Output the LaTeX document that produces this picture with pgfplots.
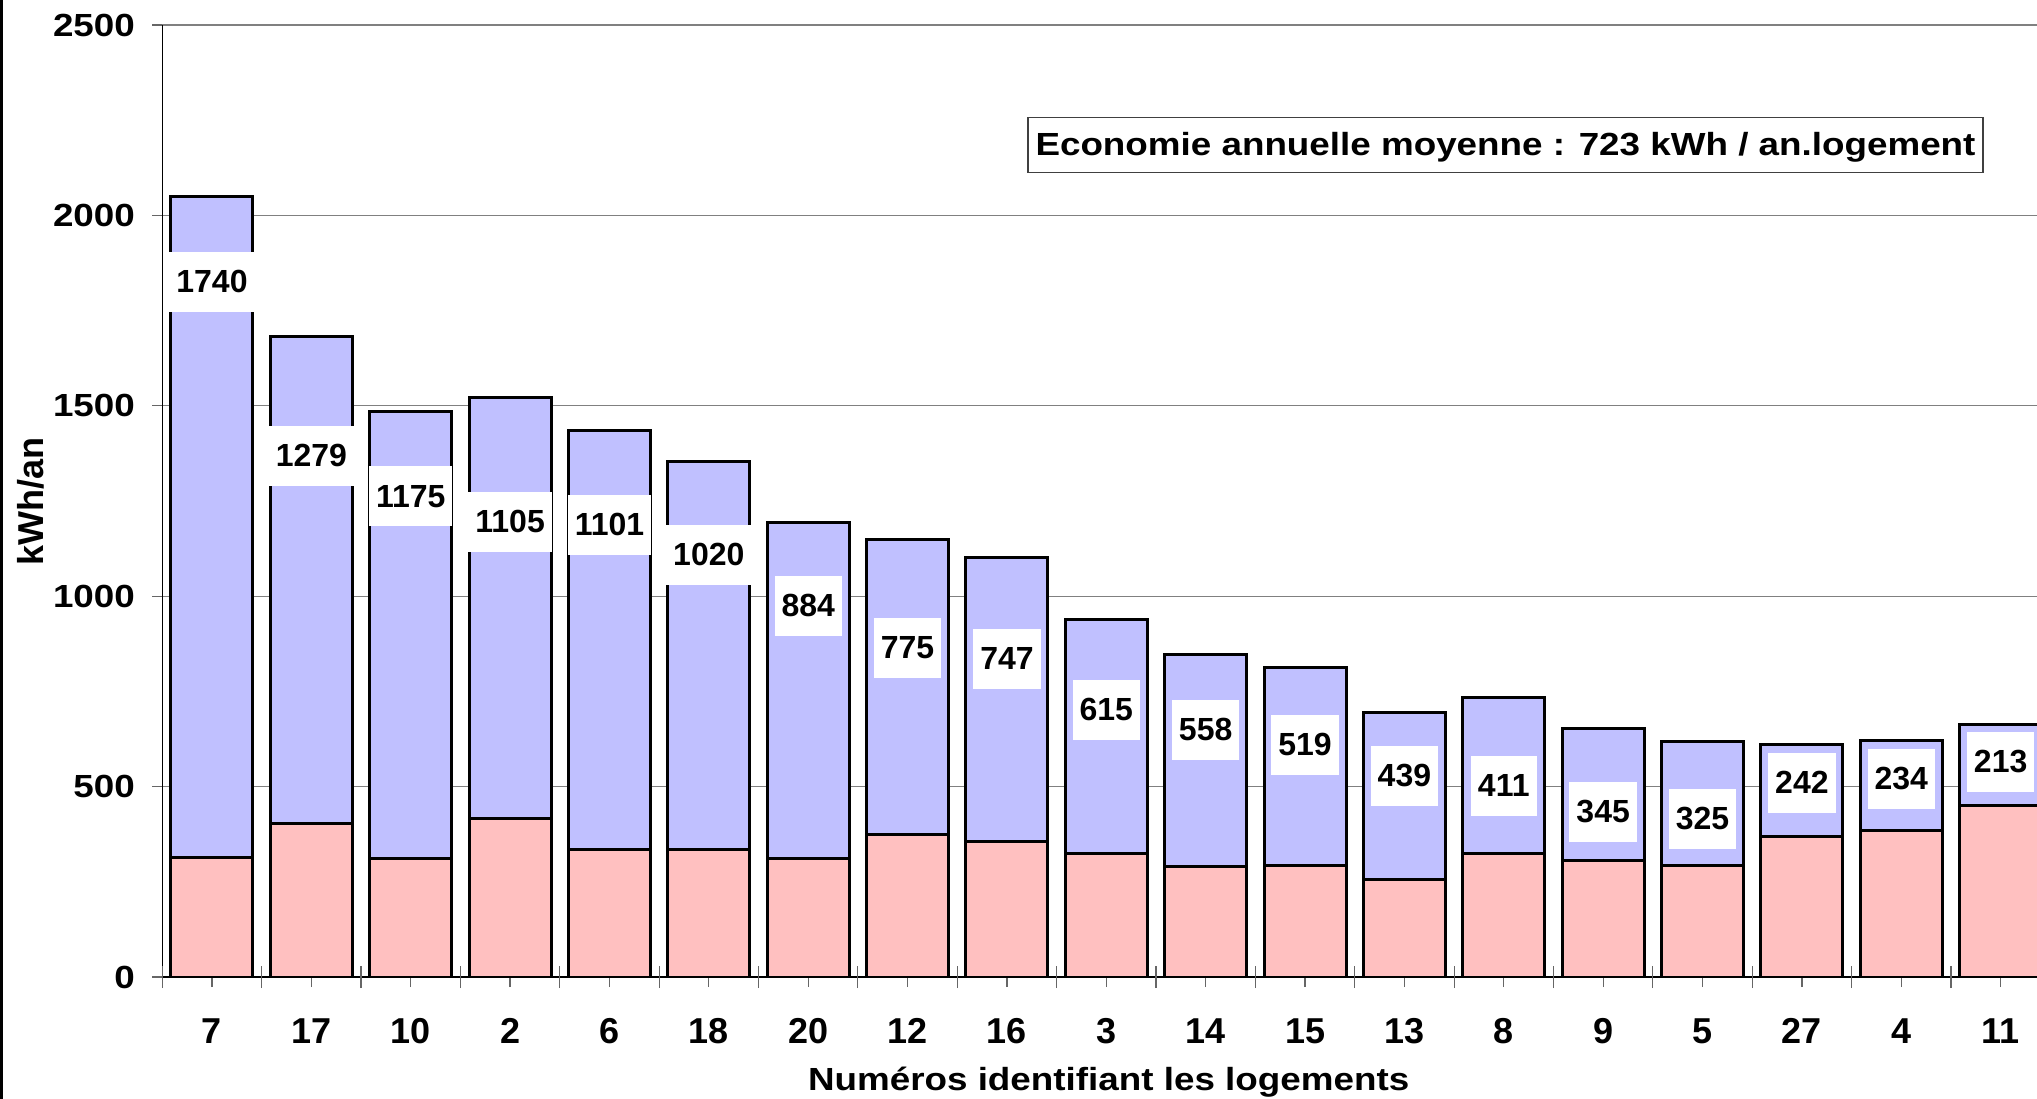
\documentclass[border=0pt]{standalone}
\usepackage{fontspec}
\setmainfont{Liberation Sans}
\newfontfamily\widefont[FakeStretch=1.15]{Liberation Sans}
\usepackage{pgfplots}
\pgfplotsset{compat=1.18}
\usepackage{pgfplotstable}
\definecolor{lav}{RGB}{192,192,255}
\definecolor{pnk}{RGB}{255,192,192}
\pgfplotstableread{
x pink total ly lab
0 314 2050 1826 1740
1 402 1681 1368 1279
2 310 1485 1262 1175
3 416 1521 1194 1105
4 334 1435 1187 1101
5 334 1354 1108 1020
6 310 1194 975 884
7 375 1150 863 775
8 355 1102 835 747
9 324 939 702 615
10 290 848 648 558
11 293 812 610 519
12 256 695 529 439
13 324 735 501 411
14 307 652 433 345
15 293 618 416 325
16 368 610 510 242
17 386 620 520 234
18 450 663 565 213
}\datatable
\begin{document}
\begin{tikzpicture}
\begin{axis}[
  scale only axis, width=937.35bp, height=476bp,
  xmin=-0.5, xmax=18.366, ymin=0, ymax=2500,
  axis lines=left, axis line style={-, black, line width=0.6bp},
  ytick={0,500,1000,1500,2000,2500},
  yticklabels={0,500,1000,1500,2000,2500},
  ymajorgrids, grid style={gray, line width=0.6bp},
  tick align=outside, major tick length=5bp,
  tick style={black!60, line width=0.6bp},
  xtick={0,...,18},
  xticklabels={7,17,10,2,6,18,20,12,16,3,14,15,13,8,9,5,27,4,11},
  extra x ticks={-0.5,0.5,1.5,2.5,3.5,4.5,5.5,6.5,7.5,8.5,9.5,10.5,11.5,12.5,13.5,14.5,15.5,16.5,17.5},
  extra x tick labels={},
  extra x tick style={tick align=center, major tick length=11bp},
  yticklabel style={anchor=east, inner sep=0pt, xshift=-8.5bp, font=\widefont\fontsize{16bp}{18bp}\selectfont\bfseries},
  xticklabel style={anchor=base, inner sep=0pt, yshift=-28bp, font=\fontsize{18bp}{20bp}\selectfont\bfseries},
  xlabel={Numéros identifiant les logements},
  xlabel style={at={(axis description cs:0.5048,-0.1197)}, anchor=base, inner sep=0pt, font=\widefont\fontsize{16bp}{19bp}\selectfont\bfseries},
  ylabel={kWh/an},
  ylabel style={at={(axis description cs:-0.0635,0.499)}, anchor=base, inner sep=0pt, font=\fontsize{18bp}{20bp}\selectfont\bfseries},
  clip=true,
]
\addplot[ybar, bar width=0.825, bar shift=0pt, fill=lav, draw=black, line width=1.5bp, mark=none] table[x=x,y=total]{\datatable};
\addplot[ybar, bar width=0.825, bar shift=0pt, fill=pnk, draw=black, line width=1.5bp, mark=none] table[x=x,y=pink]{\datatable};
\addplot[draw=none, mark=none, nodes near coords, point meta=explicit symbolic,
  nodes near coords style={anchor=center, fill=white, inner xsep=3.5bp, inner ysep=0pt, text height=20.3bp, text depth=9.7bp, font=\fontsize{16bp}{19bp}\selectfont\bfseries}]
  table[x=x,y=ly,meta=lab]{\datatable};
\node[draw=black!75, line width=0.6bp, fill=white, anchor=north, minimum width=477.5bp, inner xsep=0pt, inner ysep=0pt, text height=19bp, text depth=8.5bp, font=\widefont\fontsize{16bp}{19bp}\selectfont\bfseries] at (axis cs:13.017,2258.4) {Economie annuelle moyenne : 723 kWh / an.logement};
\end{axis}
\fill[black] (-81.15bp,-61bp) rectangle (-79.65bp,488.5bp);
\pgfresetboundingbox
\path[use as bounding box] (-81.15bp,-61bp) rectangle (937.35bp,488.5bp);
\end{tikzpicture}
\end{document}
